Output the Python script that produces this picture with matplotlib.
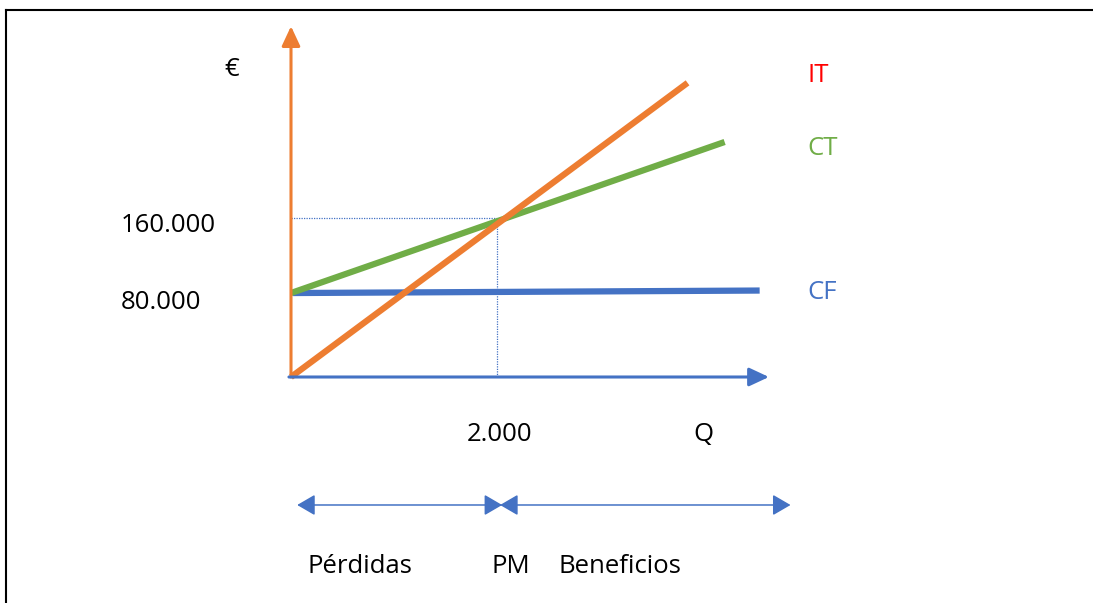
import matplotlib.pyplot as plt
from matplotlib.lines import Line2D

# break-even chart data (units: Q, euros)
q_be = 2000
v_be = 160000
y_ticks = [80000, 160000]
y_tick_labels = ['80.000', '160.000']

it_q = [0, 3850]
it_v = [0, 296000]
ct_q = [0, 4210]
ct_v = [84500, 236500]
cf_q = [20, 4550]
cf_v = [84500, 87000]

q_max = 4640
v_max = 353000
band_y = -128800
loss_span = [60, 2050]
profit_span = [2030, 4850]

ORANGE = '#ED7D31'
GREEN = '#70AD47'
BLUE = '#4472C4'
RED = '#FF0000'
FONT = 'Open Sans'

fig = plt.figure(figsize=(10.93, 6.03), dpi=100)
ax = fig.add_axes([0, 0, 1, 1])
# scale: 0.103 px per unit of Q, 159 px per 160000 euros
ax.set_xlim(-291 / 0.103, (1093 - 291) / 0.103)
ax.set_ylim((377 - 603) / 159 * 160000, 377 / 159 * 160000)
ax.axis('off')

# frame
fig.add_artist(Line2D([6 / 1093, 1], [1 - 10 / 603] * 2, color='black', lw=1.5))
fig.add_artist(Line2D([6 / 1093] * 2, [0, 1 - 10 / 603], color='black', lw=1.5))

# dotted guides
ax.plot([0, q_be], [v_be, v_be], color=BLUE, lw=0.9, ls=(0, (1, 1)))
ax.plot([q_be, q_be], [0, v_be], color=BLUE, lw=0.9, ls=(0, (1, 1)))

# axes arrows
ax.annotate('', xy=(0, v_max), xytext=(0, 0),
            arrowprops=dict(arrowstyle='-|>,head_length=0.6,head_width=0.28',
                            mutation_scale=20, color=ORANGE, lw=2.2,
                            shrinkA=0, shrinkB=0))
ax.annotate('', xy=(q_max, 0), xytext=(-20, 0),
            arrowprops=dict(arrowstyle='-|>,head_length=0.6,head_width=0.28',
                            mutation_scale=20, color=BLUE, lw=2.2,
                            shrinkA=0, shrinkB=0))

# curves
ax.plot(cf_q, cf_v, color=BLUE, lw=4.5, solid_capstyle='butt')
ax.plot(ct_q, ct_v, color=GREEN, lw=4.5, solid_capstyle='butt')
ax.plot(it_q, it_v, color=ORANGE, lw=4.5, solid_capstyle='butt')

fs = 18.5
ax.text(-573, 309000, '€', fontsize=fs, family=FONT, ha='center', va='center')
ax.text(-1650, y_ticks[0] - 5500, y_tick_labels[0], fontsize=fs, family=FONT,
        ha='left', va='center')
ax.text(-1650, y_ticks[1] - 7500, y_tick_labels[1], fontsize=fs, family=FONT,
        ha='left', va='center')
ax.text(q_be + 29, -58000, '2.000', fontsize=fs, family=FONT, ha='center', va='center')
ax.text(4000, -58000, 'Q', fontsize=fs, family=FONT, ha='center', va='center')

ax.text(5010, 303000, 'IT', fontsize=fs, family=FONT, color=RED, ha='left', va='center')
ax.text(5010, 230000, 'CT', fontsize=fs, family=FONT, color=GREEN, ha='left', va='center')
ax.text(5010, 85000, 'CF', fontsize=fs, family=FONT, color=BLUE, ha='left', va='center')

# losses / profits band
for span in (loss_span, profit_span):
    ax.annotate('', xy=(span[1], band_y), xytext=(span[0], band_y),
                arrowprops=dict(arrowstyle='<|-|>,head_length=0.55,head_width=0.32',
                                mutation_scale=20, color=BLUE, lw=1.1,
                                shrinkA=0, shrinkB=0))
ax.text(165, -191000, 'Pérdidas', fontsize=fs, family=FONT, ha='left', va='center')
ax.text(1945, -191000, 'PM', fontsize=fs, family=FONT, ha='left', va='center')
ax.text(2600, -191000, 'Beneficios', fontsize=fs, family=FONT, ha='left', va='center')

fig.savefig('out.png', dpi=100)
